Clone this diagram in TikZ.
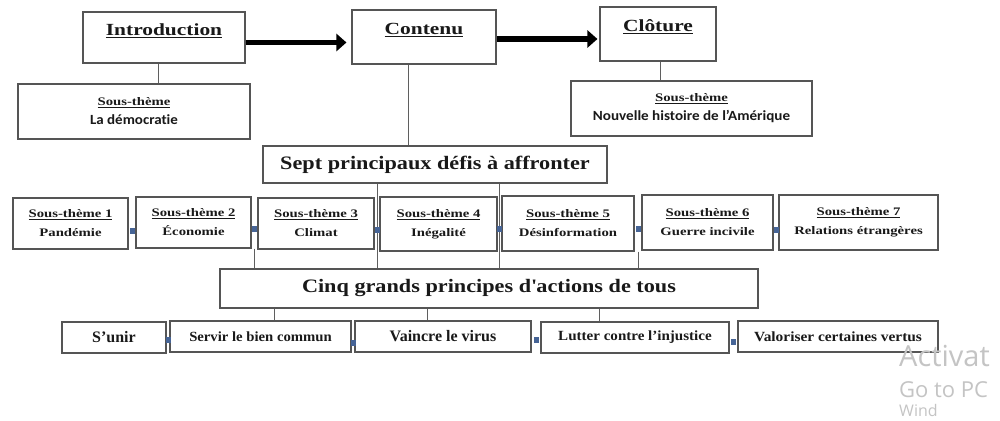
\documentclass[tikz,border=0pt]{standalone}
\usepackage{fontspec}
\setmainfont{Liberation Serif}
\newfontfamily\carl{Carlito}[Ligatures=NoCommon]
\newfontfamily\wmfont{Open Sans}
\usetikzlibrary{arrows.meta,calc}
\newcommand\tf[3]{\fontsize{#1}{#2}\selectfont\bfseries\addfontfeature{FakeStretch=#3}}
\newcommand\cf[2]{\carl\fontsize{#1}{19}\selectfont\bfseries\addfontfeature{FakeStretch=#2}}
\definecolor{bord}{RGB}{85,85,85}
\definecolor{txt}{RGB}{25,25,25}
\definecolor{mk}{RGB}{70,100,150}
\definecolor{wm}{RGB}{196,196,196}
\definecolor{ln}{RGB}{95,95,95}
\begin{document}
\begin{tikzpicture}[x=1pt,y=-1pt,
  bx/.style={draw=bord, line width=1.1pt, inner sep=0pt, text=txt, align=center, fill=white},
  hd/.style={bx, font=\tf{17}{20}{1.26}, text height=12pt, text depth=16pt},
  st/.style={bx, font=\tf{11.5}{19}{1.28}},
  sub/.style={bx, font=\fontsize{12}{19}\selectfont},
  big/.style={bx, font=\tf{19}{22}{1.17}},
  bot/.style={bx, font=\tf{14}{16}{1.0}},
  conn/.style={draw=ln, line width=0.9pt},
  bigarrow/.style={draw=black, line width=5.5pt, -{Triangle[length=10pt,width=17pt]}},
  mkr/.style={fill=mk, minimum width=5pt, minimum height=6pt, inner sep=0pt, draw=none},
  wmk/.style={anchor=base west, inner sep=0pt, text=wm}
]
\useasboundingbox (0,0) rectangle (1000,420);
\fill[white] (0,0) rectangle (1000,420);

% top row
\node[hd, minimum width=162pt, minimum height=51pt] (intro) at (164,37.5) {\underline{Introduction}};
\node[hd, minimum width=144pt, minimum height=54pt] (contenu) at (424,37) {\underline{Contenu}};
\node[hd, minimum width=116pt, minimum height=54pt] (cloture) at (658,34) {\underline{Clôture}};

\node[sub, minimum width=232pt, minimum height=55pt] (introST) at (134,111.5)
  {{\tf{11.5}{19}{1.28}\underline{Sous-thème}}\\{\cf{14}{1.07}La démocratie}};
\node[sub, minimum width=241pt, minimum height=55pt] (clotST) at (691.5,108.5)
  {{\tf{11.5}{19}{1.28}\underline{Sous-thème}}\\{\cf{14}{1.08}Nouvelle histoire de l’Amérique}};

\draw[bigarrow, shorten >=5pt] ([yshift=-5pt]intro.east) -- ([yshift=-5pt]intro.east -| contenu.west);
\draw[bigarrow, shorten >=2pt] ([yshift=-2pt]contenu.east) -- ([yshift=-2pt]contenu.east -| cloture.west);

\draw[conn] ([xshift=-6pt]intro.south) -- ([xshift=-6pt]intro.south |- introST.north);
\draw[conn] ([xshift=2pt]cloture.south) -- ([xshift=2pt]cloture.south |- clotST.north);

% sept
\node[big, minimum width=344pt, minimum height=37pt] (sept) at (435,164.5) {Sept principaux défis à affronter};
\draw[conn] ([xshift=-16pt]contenu.south) -- ([xshift=-16pt]contenu.south |- sept.north);

% sous-themes
\node[st, minimum width=115pt, minimum height=51pt] (st1) at (70.5,223.5) {\underline{Sous-thème 1}\\Pandémie};
\node[st, minimum width=115pt, minimum height=51pt] (st2) at (193.5,222.5) {\underline{Sous-thème 2}\\Économie};
\node[st, minimum width=116pt, minimum height=51pt] (st3) at (316,223.5) {\underline{Sous-thème 3}\\Climat};
\node[st, minimum width=117pt, minimum height=54pt] (st4) at (438.5,224) {\underline{Sous-thème 4}\\Inégalité};
\node[st, minimum width=132pt, minimum height=55pt] (st5) at (568,223.5) {\underline{Sous-thème 5}\\Désinformation};
\node[st, minimum width=131pt, minimum height=55pt] (st6) at (707.5,222.5) {\underline{Sous-thème 6}\\Guerre incivile};
\node[st, minimum width=159pt, minimum height=55pt] (st7) at (858.5,222.5) {\underline{Sous-thème 7}\\Relations étrangères};

% cinq
\node[big, minimum width=538pt, minimum height=39pt] (cinq) at (489,288.5) {Cinq grands principes d\textquotesingle actions de tous};

\coordinate (g23) at (254.5,0);
\coordinate (g34) at (377,0);
\coordinate (g45) at (499,0);
\coordinate (g56) at (638,0);
\draw[conn] (sept.south -| g34) -- (cinq.north -| g34);
\draw[conn] (sept.south -| g45) -- (cinq.north -| g45);
\draw[conn] (st2.south -| g23) -- (cinq.north -| g23);
\draw[conn] (st5.south -| g56) -- (cinq.north -| g56);

% bottom row
\node[bx, font=\tf{16}{18}{1.0}, minimum width=104pt, minimum height=31pt] (sunir) at (114,337.5) {S’unir};
\node[bot, font=\tf{14}{16}{1.05}, minimum width=181pt, minimum height=31pt] (servir) at (260.5,336.5) {Servir le bien commun};
\node[bx, font=\tf{16}{18}{1.0}, minimum width=176pt, minimum height=31pt] (vaincre) at (443,336.5) {Vaincre le virus};
\node[bot, font=\tf{14}{16}{1.075}, minimum width=188pt, minimum height=31pt] (lutter) at (635,337.5) {Lutter contre l’injustice};
\node[bot, font=\tf{14}{16}{1.1}, minimum width=200pt, minimum height=31pt] (valoriser) at (838,336.5) {Valoriser certaines vertus};

\coordinate (b1) at (274,0);
\coordinate (b2) at (427,0);
\coordinate (b3) at (599,0);
\draw[conn] (cinq.south -| b1) -- (servir.north -| b1);
\draw[conn] (cinq.south -| b2) -- (vaincre.north -| b2);
\draw[conn] (cinq.south -| b3) -- (lutter.north -| b3);

% markers
\node[mkr] (m1) at ($(st1.east)!0.5!(st2.west)+(0,8)$) {};
\node[mkr] (m2) at ($(st2.east)!0.5!(st3.west)+(0,6)$) {};
\node[mkr] (m3) at ($(st3.east)!0.5!(st4.west)+(0,6)$) {};
\node[mkr] (m4) at ($(st4.east)!0.5!(st5.west)+(0,5)$) {};
\node[mkr] (m5) at ($(st5.east)!0.5!(st6.west)+(0,6)$) {};
\node[mkr] (m6) at ($(st6.east)!0.5!(st7.west)+(0,7)$) {};
\node[mkr] (m7) at ($(sunir.east)!0.5!(servir.west)+(0,3)$) {};
\node[mkr] (m8) at ($(servir.east)!0.5!(vaincre.west)+(0,6)$) {};
\node[mkr] (m9) at ($(vaincre.east)!0.5!(lutter.west)+(0,3)$) {};
\node[mkr] (m10) at ($(lutter.east)!0.5!(valoriser.west)+(0,5)$) {};

% watermark (visible parts only)
\node[wmk, font=\wmfont\fontsize{29}{29}\selectfont] (wm1) at (899,366) {Activat};
\node[wmk, font=\wmfont\fontsize{22}{22}\selectfont] (wm2) at (899,397) {Go to PC};
\node[wmk, font=\wmfont\fontsize{16}{16}\selectfont] (wm3) at (899,416) {Wind};
\end{tikzpicture}
\end{document}
